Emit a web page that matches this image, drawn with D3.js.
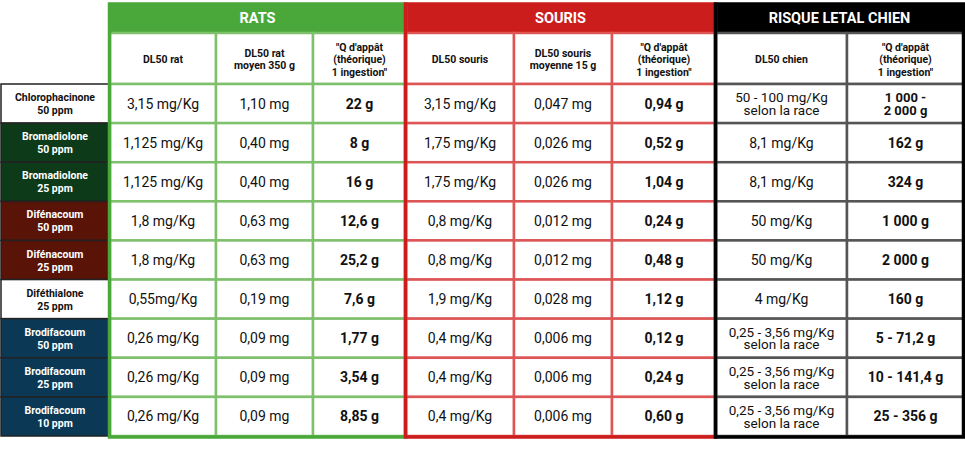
<!DOCTYPE html><html><head><meta charset="utf-8">
<script src="https://cdn.jsdelivr.net/npm/d3@7"></script>
<style>body{margin:0;background:#fff}svg{font-family:Roboto,sans-serif}</style></head><body>
<svg id="c" width="965" height="450"></svg>
<script>
const groups=["RATS","SOURIS","RISQUE LETAL CHIEN"];
const groupColors=["#4aa83a","#cc1d1d","#000000"];
const columns=[
 ["DL50 rat"],["DL50 rat","moyen 350 g"],["\"Q d'appât","(théorique)","1 ingestion\""],
 ["DL50 souris"],["DL50 souris","moyenne 15 g"],["\"Q d'appât","(théorique)","1 ingestion\""],
 ["DL50 chien"],["\"Q d'appât","(théorique)","1 ingestion\""]];
const columnGroup=[0,0,0,1,1,1,2,2];
const boldCols=[2,5,7];
const products=[["Chlorophacinone","50 ppm"],["Bromadiolone","50 ppm"],["Bromadiolone","25 ppm"],["Difénacoum","50 ppm"],["Difénacoum","25 ppm"],["Diféthialone","25 ppm"],["Brodifacoum","50 ppm"],["Brodifacoum","25 ppm"],["Brodifacoum","10 ppm"]];
const productColors=["#ffffff","#0d3a19","#0d3a19","#5a1307","#5a1307","#ffffff","#0b3955","#0b3955","#0b3955"];
const values=[
 ["3,15 mg/Kg","1,10 mg","22 g","3,15 mg/Kg","0,047 mg","0,94 g","50 - 100 mg/Kg|selon la race","1 000 -|2 000 g"],
 ["1,125 mg/Kg","0,40 mg","8 g","1,75 mg/Kg","0,026 mg","0,52 g","8,1 mg/Kg","162 g"],
 ["1,125 mg/Kg","0,40 mg","16 g","1,75 mg/Kg","0,026 mg","1,04 g","8,1 mg/Kg","324 g"],
 ["1,8 mg/Kg","0,63 mg","12,6 g","0,8 mg/Kg","0,012 mg","0,24 g","50 mg/Kg","1 000 g"],
 ["1,8 mg/Kg","0,63 mg","25,2 g","0,8 mg/Kg","0,012 mg","0,48 g","50 mg/Kg","2 000 g"],
 ["0,55mg/Kg","0,19 mg","7,6 g","1,9 mg/Kg","0,028 mg","1,12 g","4 mg/Kg","160 g"],
 ["0,26 mg/Kg","0,09 mg","1,77 g","0,4 mg/Kg","0,006 mg","0,12 g","0,25 - 3,56 mg/Kg|selon la race","5 - 71,2 g"],
 ["0,26 mg/Kg","0,09 mg","3,54 g","0,4 mg/Kg","0,006 mg","0,24 g","0,25 - 3,56 mg/Kg|selon la race","10 - 141,4 g"],
 ["0,26 mg/Kg","0,09 mg","8,85 g","0,4 mg/Kg","0,006 mg","0,60 g","0,25 - 3,56 mg/Kg|selon la race","25 - 356 g"]];
const colEdges=[110,216,313,406,514,612,716,847,964];
const svg=d3.select("#c");
const y=d3.scaleBand().domain(d3.range(products.length)).range([84,436]);
const inner=["#7fc06c","#dd5555","#555"];
groups.forEach((g,i)=>{
  const cs=columnGroup.map((v,k)=>v===i?k:-1).filter(k=>k>=0);
  const x0=colEdges[cs[0]]-2,x1=colEdges[cs[cs.length-1]+1]+1;
  svg.append("rect").attr("x",x0).attr("y",3).attr("width",x1-x0).attr("height",30).attr("fill",groupColors[i]);
  svg.append("text").attr("x",(x0+x1)/2).attr("y",23).attr("text-anchor","middle").attr("fill","#fff").attr("font-weight","bold").attr("font-size",14.5).text(g);
});
columns.forEach((c,k)=>{
  const x0=colEdges[k],x1=colEdges[k+1],g=columnGroup[k];
  svg.append("rect").attr("x",x0).attr("y",33).attr("width",x1-x0).attr("height",51).attr("fill","#fff").attr("stroke",inner[g]).attr("stroke-width",2.5);
  const t=svg.append("text").attr("text-anchor","middle").attr("font-size",10.5).attr("font-weight","bold").attr("fill","#111");
  c.forEach((l,j)=>t.append("tspan").attr("x",(x0+x1)/2).attr("y",60+(j-(c.length-1)/2)*12.5+3).text(l));
});
values.forEach((row,r)=>{
  row.forEach((v,k)=>{
    const x0=colEdges[k],x1=colEdges[k+1],g=columnGroup[k];
    svg.append("rect").attr("x",x0).attr("y",y(r)).attr("width",x1-x0).attr("height",y.bandwidth()).attr("fill","#fff").attr("stroke",inner[g]).attr("stroke-width",2.5);
    const lines=v.split("|"),b=boldCols.includes(k);
    const fs=lines.length>1?(b?13:13.5):(b?14:14);
    const t=svg.append("text").attr("text-anchor","middle").attr("font-size",fs).attr("font-weight",b?"bold":"normal").attr("fill","#111");
    const cy=y(r)+y.bandwidth()/2;
    lines.forEach((l,j)=>t.append("tspan").attr("x",(x0+x1)/2).attr("y",cy+(j-(lines.length-1)/2)*12.5+5).text(l));
  });
  const pc=productColors[r];
  svg.append("rect").attr("x",1).attr("y",y(r)).attr("width",108).attr("height",y.bandwidth()).attr("fill",pc).attr("stroke","#222").attr("stroke-width",1.5);
  const t=svg.append("text").attr("text-anchor","middle").attr("font-size",10.5).attr("font-weight","bold").attr("fill",pc==="#ffffff"?"#111":"#fff");
  products[r].forEach((l,j)=>t.append("tspan").attr("x",55).attr("y",y(r)+y.bandwidth()/2+(j-0.5)*13+4).text(l));
});
groups.forEach((g,i)=>{
  const cs=columnGroup.map((v,k)=>v===i?k:-1).filter(k=>k>=0);
  const x0=colEdges[cs[0]],x1=colEdges[cs[cs.length-1]+1];
  svg.append("rect").attr("x",x0-0.5).attr("y",4).attr("width",x1-x0).attr("height",433).attr("fill","none").attr("stroke",groupColors[i]).attr("stroke-width",3.5);
});
</script></body></html>
